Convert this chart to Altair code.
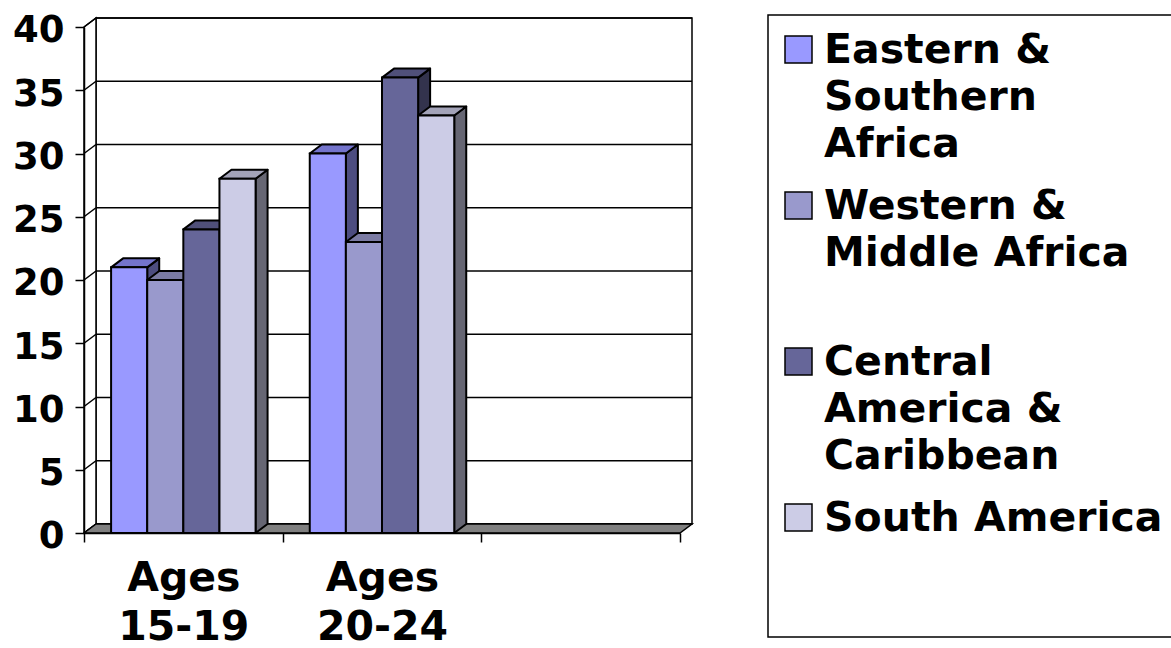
import json

import altair as alt
import pandas as pd

# ---- data ---------------------------------------------------------------
CATEGORIES = ["Ages 15-19", "Ages 20-24", ""]
SERIES = [
    "Eastern & Southern Africa",
    "Western & Middle Africa",
    "Central America & Caribbean",
    "South America",
]
EASTERN_SOUTHERN = [21, 30]
WESTERN_MIDDLE = [20, 23]
CENTRAL_CARIBBEAN = [24, 36]
SOUTH_AMERICA = [28, 33]

# wrapped legend labels (blank lines keep the entries evenly spaced)
LEGEND_LINES = [
    ["Eastern &", "Southern", "Africa"],
    ["Western &", "Middle Africa", ""],
    ["Central", "America &", "Caribbean"],
    ["South America", ""],
]
Y_TICKS = [0, 5, 10, 15, 20, 25, 30, 35, 40]

# ---- styling ------------------------------------------------------------
FRONT = ["#9999FF", "#9999CC", "#666699", "#CCCCE6"]
TOP = ["#7474CC", "#7B7BA3", "#50507A", "#A3A3B8"]
SIDE = ["#4D4D80", "#4D4D66", "#33334D", "#666673"]
FLOOR = "#808080"
FONT = "DejaVu Sans"

W, H = 596, 506                  # plot area
N_CAT = len(CATEGORIES)
Y_MAX = Y_TICKS[-1]
DEPTH_X_PX, DEPTH_Y_PX = 12, 9   # oblique depth of the 3-D look
DX = DEPTH_X_PX * N_CAT / W      # depth in data units
DY = DEPTH_Y_PX * Y_MAX / H
GAP = 1.5                        # gap between clusters, in bar widths
BAR_W = 1 / (len(SERIES) + GAP)

LABEL_DY = 12.5                  # extra downward shift of guide labels

series_values = [EASTERN_SOUTHERN, WESTERN_MIDDLE, CENTRAL_CARIBBEAN, SOUTH_AMERICA]

# ---- bar geometry (front rectangle, right side, top) ---------------------
fronts, sides, tops = [], [], []
for c in range(len(series_values[0])):
    for i, name in enumerate(SERIES):
        v = series_values[i][c]
        xl = c + GAP * BAR_W / 2 + i * BAR_W
        xr = xl + BAR_W
        bar = f"{c}-{i}"
        fronts.append(dict(series=name, x=xl, x2=xr, y=0, y2=v))
        sides += [
            dict(bar=bar, series=name, x=xr, lo=0, hi=v),
            dict(bar=bar, series=name, x=xr + DX, lo=DY, hi=v + DY),
        ]
        tops += [
            dict(bar=bar, series=name, y=v, xa=xl, xb=xr),
            dict(bar=bar, series=name, y=v + DY, xa=xl + DX, xb=xr + DX),
        ]

category_lines = [c.split(" ") if c else [""] for c in CATEGORIES] + [[""]]

x_axis = alt.Axis(
    values=list(range(N_CAT + 1)),
    labelExpr=f"{json.dumps(category_lines)}[datum.value]",
    labelOffset=W / N_CAT / 2,
    labelAlign="center",
    labelBaseline="top",
    labelPadding=16 - LABEL_DY,
    labelLineHeight=49,
    labelFont=FONT,
    labelFontSize=41,
    labelFontWeight="bold",
    labelColor="black",
    labelFlush=False,
    labelOverlap=False,
    tickSize=9,
    tickWidth=1.5,
    tickColor="black",
    domainColor="black",
    domainWidth=1.5,
    grid=False,
    title=None,
    zindex=1,
)

Y_FONT = 37
y_axis = alt.Axis(
    values=Y_TICKS,
    labelFont=FONT,
    labelFontSize=Y_FONT,
    labelFontWeight="bold",
    labelColor="black",
    labelBaseline="bottom",
    # digits centred on their tick after the shared label shift
    labelOffset=0.51 * Y_FONT - LABEL_DY + 4,
    labelPadding=11,
    tickSize=9,
    tickWidth=1.5,
    tickColor="black",
    domainColor="black",
    domainWidth=1.5,
    grid=False,
    title=None,
    zindex=1,
)

xs = alt.Scale(domain=[0, N_CAT], nice=False, zero=False)
ys = alt.Scale(domain=[0, Y_MAX], nice=False, zero=False)


def qx(field):
    return alt.X(f"{field}:Q", scale=xs, axis=x_axis)


def qy(field):
    return alt.Y(f"{field}:Q", scale=ys, axis=y_axis)


# ---- walls, gridlines and floor ------------------------------------------
back_wall = alt.Chart(
    pd.DataFrame([dict(x=DX, x2=N_CAT + DX, y=DY, y2=Y_MAX + DY)])
).mark_rect(fill="white", stroke="black", strokeWidth=1.5).encode(
    x=qx("x"), x2="x2:Q", y=qy("y"), y2="y2:Q"
)

left_wall = alt.Chart(
    pd.DataFrame([dict(x=0, lo=0, hi=Y_MAX), dict(x=DX, lo=DY, hi=Y_MAX + DY)])
).mark_area(orient="vertical", fill="white", stroke="black", strokeWidth=1.5).encode(
    x=qx("x"), y=qy("lo"), y2="hi:Q"
)

grid_back = alt.Chart(
    pd.DataFrame({"x": DX, "x2": N_CAT + DX, "y": [t + DY for t in Y_TICKS]})
).mark_rule(color="black", strokeWidth=1.5).encode(x=qx("x"), x2="x2:Q", y=qy("y"))

grid_side = alt.Chart(
    pd.DataFrame({"x": 0.0, "x2": DX, "y": Y_TICKS, "y2": [t + DY for t in Y_TICKS]})
).mark_rule(color="black", strokeWidth=1.5).encode(
    x=qx("x"), x2="x2:Q", y=qy("y"), y2="y2:Q"
)

floor = alt.Chart(
    pd.DataFrame([dict(y=0, xa=0, xb=N_CAT), dict(y=DY, xa=DX, xb=N_CAT + DX)])
).mark_area(orient="horizontal", fill=FLOOR, stroke="black", strokeWidth=1.5).encode(
    y=qy("y"), x=qx("xa"), x2="xb:Q"
)

# ---- bars -----------------------------------------------------------------
side_faces = alt.Chart(pd.DataFrame(sides)).mark_area(
    orient="vertical", stroke="black", strokeWidth=2, strokeJoin="round"
).encode(
    x=qx("x"),
    y=qy("lo"),
    y2="hi:Q",
    detail="bar:N",
    fill=alt.Fill("series:N", scale=alt.Scale(domain=SERIES, range=SIDE), legend=None),
)

top_faces = alt.Chart(pd.DataFrame(tops)).mark_area(
    orient="horizontal", stroke="black", strokeWidth=2, strokeJoin="round"
).encode(
    y=qy("y"),
    x=qx("xa"),
    x2="xb:Q",
    detail="bar:N",
    fill=alt.Fill("series:N", scale=alt.Scale(domain=SERIES, range=TOP), legend=None),
)

# ---- legend ---------------------------------------------------------------
# Each legend row is max(symbol diameter, label size) = 41 px wide/high, with
# symbol and label anchored at its centre. The swatch path is shifted so the
# square sits left of the label and rests on the first label baseline.
SWATCH = 27
ROW = 41
half = SWATCH / 2
sx0 = (-5 - half) / half
sx1 = (-5 + half) / half
sy0 = (LABEL_DY - SWATCH) / half
sy1 = LABEL_DY / half
swatch_path = f"M{sx0:.4f},{sy0:.4f}H{sx1:.4f}V{sy1:.4f}H{sx0:.4f}Z"

legend = alt.Legend(
    orient="none",
    direction="vertical",
    legendX=684,
    legendY=-12,
    title=" ",
    titleOrient="bottom",
    titleFontSize=20,
    titlePadding=16,
    symbolType=swatch_path,
    symbolSize=SWATCH ** 2,
    symbolStrokeColor="black",
    symbolStrokeWidth=1.5,
    labelExpr=f"{json.dumps(LEGEND_LINES)}[indexof({json.dumps(SERIES)}, datum.label)]",
    labelFont=FONT,
    labelFontSize=ROW,
    labelFontWeight="bold",
    labelColor="black",
    labelBaseline="alphabetic",
    labelOffset=0,
    labelLimit=600,
    rowPadding=21,
    padding=15,
    strokeColor="black",
    fillColor="white",
)

front_faces = alt.Chart(pd.DataFrame(fronts)).mark_rect(
    stroke="black", strokeWidth=2
).encode(
    x=qx("x"),
    x2="x2:Q",
    y=qy("y"),
    y2="y2:Q",
    fill=alt.Fill("series:N", scale=alt.Scale(domain=SERIES, range=FRONT), legend=legend),
)

chart = (
    alt.layer(
        back_wall, left_wall, grid_back, grid_side, floor,
        side_faces, top_faces, front_faces,
    )
    .resolve_scale(fill="independent")
    .properties(
        width=W,
        height=H,
        padding={"left": 84, "top": 27, "right": 1171 - 84 - W, "bottom": 648 - 27 - H},
        autosize=alt.AutoSizeParams(type="none"),
        background="white",
    )
    .configure(style={"guide-label": {"lineHeight": 47, "dy": LABEL_DY}})
    .configure_view(strokeWidth=0)
    .configure_legend(strokeWidth=1.5)
)

chart.save("out.html", embed_options={"renderer": "svg", "actions": False})
